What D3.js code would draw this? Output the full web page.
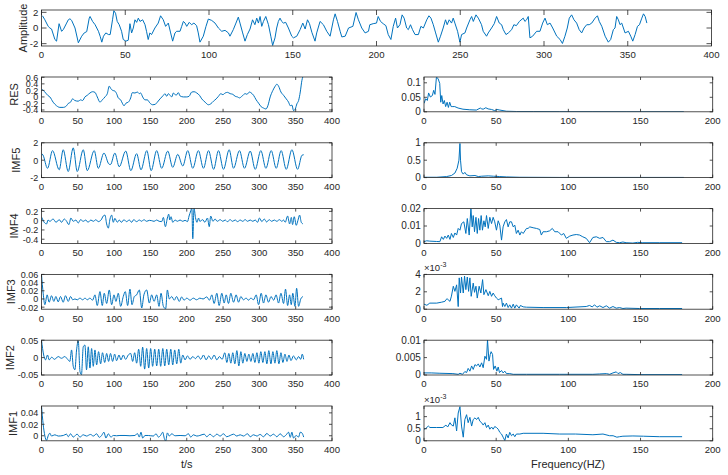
<!DOCTYPE html>
<html><head><meta charset="utf-8">
<script src="https://cdn.jsdelivr.net/npm/d3@7"></script>
<style>
html,body{margin:0;padding:0;background:#fff;}
svg text{font-family:"Liberation Sans",Arial,sans-serif;fill:#262626;}
</style></head>
<body><svg id="c" width="728" height="475"></svg>
<script>
// ---------- data ----------
const timeTicks = [0,50,100,150,200,250,300,350,400];
const freqTicks = [0,50,100,150,200];

const ampSignal = [[0.6,1.56],[2,1.05],[4,0.21],[5,0],[6,-0.13],[8,-1.47],[9,-1.68],[10.5,0.55],[12,-0.42],[13,-0.21],[15,0.63],[16,1.05],[17,1.18],[18,0.97],[20,0],[22,-1.89],[24,-1.05],[25.5,-0.63],[27,-0.46],[28.5,1.26],[29,1.47],[30.5,0.84],[32,0.42],[33,0],[34,-0.42],[35,-1.05],[36,-1.81],[37,-1.05],[38.4,-0.63],[40,-0.84],[41,-0.84],[42.4,1.05],[43.2,2.2],[44.2,1.89],[45.2,0.84],[46.4,0.42],[47.8,-0.42],[48.8,-1.47],[50.4,-1.68],[51.8,-1.56],[52.8,0.55],[53.8,-0.63],[54.8,0],[55.8,1.05],[56.8,0.72],[57.8,1.26],[58.8,0.84],[60.4,1.05],[61.8,0.42],[62.7,-0.42],[63.7,-1.47],[64.7,-0.63],[65.7,-0.84],[67.7,0],[69.7,0.63],[71.1,1.56],[72.7,1.05],[74.1,0.21],[75.7,0.63],[77.1,-0.63],[78.3,-1.68],[79.7,-0.63],[80.7,-0.42],[82.7,-0.42],[83.7,0.21],[84.7,0.84],[85.7,0.63],[86.7,0.21],[88.2,0.72],[89.6,0.42],[91,0.63],[92.6,0.3],[93.6,-0.63],[94.6,-1.81],[96.6,-1.05],[98.2,0.21],[99.6,1.14],[101.6,0.97],[103.6,0.63],[105.6,0],[107.6,-0.42],[109.6,-0.3],[111.6,-0.63],[112.5,-1.05],[114.5,-0.21],[116.1,0.63],[117.5,1.39],[118.5,0.63],[120.1,-0.63],[121.5,-1.68],[122.9,-0.84],[124.5,-0.13],[126,1.05],[127.4,0.42],[128.5,1.26],[129.5,0.63],[130.5,1.47],[131.5,0.21],[132.5,0.84],[133.9,1.47],[135.5,0.42],[136.9,-1.05],[138,-2.23],[139.4,-1.26],[140.4,0],[141.4,0.84],[142.4,1.26],[143.4,0.84],[144.4,0.63],[145.8,0.72],[147.4,0],[149.4,-1.05],[150.4,-1.26],[152.4,-1.05],[154.4,-0.21],[156,0.63],[157.4,-0.13],[158.8,1.05],[160,0.55],[161.4,-0.55],[163.3,-1.68],[164.3,-0.63],[166.3,0.84],[168.3,0.42],[170.3,-0.42],[172.3,-1.05],[174.3,1.05],[175.3,1.81],[176.7,0.84],[178.3,-0.42],[179.3,-1.14],[181.3,-1.05],[183.3,0],[185.9,0.21],[187.8,1.98],[189.2,1.05],[191.2,0],[193.2,-0.63],[195.2,-0.42],[196,0.42],[198,0.55],[200,0.63],[201,1.47],[202.4,0.84],[204,0.55],[205.6,0.3],[207,-0.84],[208.6,-1.47],[210,0.21],[211.4,1.26],[212.5,0],[214,0.42],[215.3,1.68],[216.5,1.26],[218,0],[219,-0.21],[220.3,0.42],[221.5,-0.21],[223,-0.84],[225,-0.84],[226.5,0.21],[228,0],[230,1.05],[231.3,1.56],[232.5,1.26],[233.9,0.42],[235.3,-0.63],[236.9,-1.81],[238.2,-1.05],[239.8,0],[241.2,1.05],[242.2,0.42],[243.4,1.05],[244.8,0.63],[245.8,1.26],[246.8,0.63],[248.4,-0.42],[249.8,-1.81],[250.8,-0.84],[252.8,-0.63],[253.8,0],[255.8,1.05],[256.8,1.47],[257.8,0.84],[259.4,1.68],[260.8,1.26],[262.7,0.42],[263.7,-0.42],[265.7,-1.05],[266.7,-0.63],[268.7,0],[270.3,0.55],[271.7,1.47],[273.3,0.63],[274.7,0.42],[275.7,-0.21],[277.3,-0.84],[278.7,-0.63],[280.7,-0.21],[282,0.42],[283.5,0.3],[285.3,0.84],[287.6,1.26],[288.6,0.84],[289.6,1.05],[290.6,1.47],[291.6,-1.26],[293.2,-1.05],[295.6,-0.42],[297.6,-0.42],[299.2,0.63],[300.6,1.26],[302,0.42],[303.6,0.63],[305.2,0],[307.6,-1.05],[309.6,-1.47],[311,-1.98],[312.5,-1.05],[313.9,0],[315.1,1.26],[316.5,1.68],[317.9,1.05],[319.5,0.63],[321,-0.21],[322.5,-0.63],[323.9,0],[325.5,0.42],[327,0.42],[328.5,0.63],[330.5,1.26],[331.9,1.56],[333,0.84],[334.5,0.21],[336.5,-1.05],[338.4,-1.81],[339.8,-1.47],[341.4,-0.21],[342.4,0],[343.4,1.47],[344.4,1.05],[345.4,0.42],[346.4,0.63],[348.4,-0.63],[350.4,-0.42],[351.8,-1.05],[353,-1.68],[354.4,-0.84],[355.8,0.21],[357,0.42],[358.4,1.26],[359.4,1.81],[360.4,1.47],[361.4,0.63]];

const resSignal = [[0,0.2],[1,0.22],[4.6,0.15],[9,0.04],[11.5,0],[16,-0.16],[20.7,-0.27],[25.3,-0.32],[30,-0.32],[34.5,-0.27],[36.8,-0.2],[40,-0.16],[42.8,-0.06],[46,-0.11],[50.6,-0.13],[53.8,-0.09],[56.6,-0.11],[59.8,0],[63,0.05],[66.7,0.12],[70.3,0.16],[73.6,0.14],[76.8,0],[80.5,-0.16],[83.7,-0.09],[87.4,0],[90.6,0.1],[93.3,0.33],[95.6,0.25],[98,0.2],[101,0.18],[103.4,0.1],[105.7,-0.03],[109,-0.09],[111.7,-0.21],[113.6,-0.27],[116.3,-0.19],[119.5,-0.16],[122.8,-0.03],[125,0.13],[128.7,0.12],[132,0.15],[134.7,0.1],[136.6,0.12],[139.3,0],[142.5,-0.09],[145.7,-0.09],[149.4,-0.19],[153.1,-0.24],[156.3,-0.23],[159.5,-0.16],[163.2,-0.06],[167.8,0.05],[170,0.1],[172.4,0.02],[174.7,0.1],[177,0.05],[179.3,0],[181.6,0.12],[185.3,0.05],[188.5,0.13],[190.8,0.03],[195.4,0],[200,0],[203.2,0.02],[206.9,0.15],[210.1,0.16],[213.8,0.12],[217.5,0.05],[220.7,-0.06],[225.3,-0.16],[229.9,-0.24],[233.1,-0.21],[236.8,-0.13],[240.5,-0.06],[243.7,0.02],[246.9,0.1],[249.7,0.07],[252.9,0.12],[256.1,0.14],[259.8,0.1],[263.4,0.08],[266.7,0.02],[269.9,0],[272.6,-0.03],[275.9,0.02],[280.5,0.1],[282.8,0.08],[286.4,0.15],[288.3,0.13],[292,0.05],[295.6,-0.09],[298.9,-0.19],[302.5,-0.3],[305.7,-0.34],[309,-0.37],[311.7,-0.27],[314.9,0],[318.6,0.2],[321.8,0.33],[324.1,0.39],[326.4,0.33],[329.7,0.15],[333.3,0.05],[337,-0.06],[340.2,-0.16],[342.5,-0.27],[344.8,-0.25],[347.1,-0.42],[349.4,-0.37],[351.7,-0.21],[354,-0.11],[356.3,0.15],[358.6,0.51],[360.9,0.67]];

const imf5Signal = [[0.5,0.75],[2,0.6],[8.3,-0.93],[15.2,1.1],[24.4,-1.1],[29.9,1.2],[36.8,-1.3],[43.7,1.42],[49.2,-1.3],[57.5,1.2],[63,-1.2],[72.6,1.1],[78.2,-0.93],[86,0.82],[92.9,-0.45],[95,-0.5],[101,0.82],[107,-0.75],[116,1.05],[123,-1.2],[131,0.75],[137,-1.1],[145,1.1],[151,-1.2],[158.6,1.1],[165.5,-0.93],[173.8,1.05],[180.7,-0.82],[187.6,0.67],[194.5,-0.67],[201.4,1.1],[208.3,-0.93],[216,1.1],[223,-0.93],[230,1.1],[237,-1.05],[243.7,1.1],[250.6,-1.05],[258.4,1.2],[264.4,-0.93],[272.6,1.1],[279.5,-0.93],[287.4,1.05],[294.3,-1.05],[302,1.1],[309,-0.93],[316.3,1.1],[323.2,-0.93],[330,1.1],[337,-1.05],[344.8,1.2],[352.6,-1.05],[358.6,0.56],[361,0.63]];

const imf4Signal = [[0.5,0.07],[3.7,-0.035],[7,-0.07],[9,0.014],[11.5,-0.014],[16,0.035],[20,-0.035],[24.4,0.021],[27.6,-0.035],[31.3,0.035],[34,0],[37.7,-0.085],[40.5,0.057],[43.7,-0.014],[47.4,0.014],[50.6,-0.05],[53.8,0.021],[57.5,-0.014],[61,0.014],[64,-0.035],[68,0.014],[71.3,-0.014],[75,0.021],[78,-0.021],[82,0.014],[85,0.1],[87.4,0.12],[89.7,-0.07],[92,-0.16],[94.3,0.035],[96.6,0.12],[98.9,-0.035],[101,0.05],[104.4,-0.035],[107,0.014],[110,-0.035],[113.6,0.021],[117,-0.021],[121,0.014],[124,-0.035],[127,0.021],[131,-0.021],[134.7,0.014],[138,-0.014],[141,0.021],[144.8,-0.014],[148.5,0.007],[151.7,0],[155,-0.014],[158.6,0.014],[162,-0.014],[165.5,-0.021],[167.8,0.07],[170.6,-0.13],[173.3,0.057],[175.2,0.14],[176.6,0.014],[178.4,0.085],[180.7,-0.035],[184,0.014],[187,-0.014],[190.8,0.014],[194.5,-0.014],[197.7,0.007],[201,-0.021],[203.2,0.1],[205.5,0.21],[207,0.27],[208.3,-0.39],[210,0.27],[212,0.07],[214,-0.035],[216.3,0.057],[218,-0.014],[222,0.021],[225,-0.035],[228.5,0.057],[231,-0.13],[233,0.1],[236,-0.014],[239,0.035],[242,-0.014],[246,0.021],[249.7,-0.014],[252.9,0.014],[256,-0.021],[259.8,0.021],[263,-0.014],[266.7,0.014],[270,-0.021],[273.6,0.014],[277,-0.014],[280.5,0.021],[283.7,-0.014],[287.4,0.014],[291,-0.014],[294.3,0.014],[297.5,-0.035],[300.2,0.057],[303.4,-0.021],[306.7,0.035],[310,-0.028],[313.5,0.021],[317,-0.014],[320.6,0.014],[324,-0.014],[327.6,0.021],[331,-0.014],[333.3,0.014],[335.6,-0.035],[338.9,0.1],[341.6,-0.07],[344,0.07],[345.7,-0.085],[348,0.085],[350.8,-0.1],[353,0],[355.4,0.12],[357.7,-0.035],[360,-0.07]];

const imf3Signal = [[0,0.06],[2.3,0.014],[4.6,-0.014],[7.8,0.01],[10.5,-0.008],[13.8,0.008],[17,-0.006],[19.8,0.006],[23,-0.007],[26.2,0.006],[29.9,-0.008],[33,0.008],[36.8,-0.006],[40,0.006],[43,-0.002],[46,0],[49.2,-0.002],[53,0.002],[56.6,-0.002],[60,0.002],[63,-0.002],[66.7,0.002],[70.3,-0.003],[73.6,0.01],[76.8,-0.016],[80.5,0.018],[83.7,-0.016],[86.4,0.014],[89.7,-0.011],[93.3,0.022],[96.6,-0.014],[99.8,0.01],[102.5,-0.006],[105.7,0.014],[109,-0.018],[112.6,0.006],[115.4,0.018],[118.6,-0.016],[121.8,0.024],[124.6,-0.014],[127.8,0.006],[131,0.01],[134.7,0.022],[138,-0.022],[141,0.01],[144.8,0.022],[148.5,-0.01],[151.7,0.01],[155,-0.006],[158.6,0.01],[161.8,-0.018],[164.6,0.014],[167.8,-0.018],[171,-0.024],[173.3,0.022],[176,0],[179.3,0.006],[182.8,-0.003],[186,0.006],[189.7,-0.006],[193,0.005],[196.3,-0.003],[200,0.002],[204.6,-0.003],[209,0.002],[213.6,-0.002],[218,0.002],[222.5,0],[227.6,0.005],[231.3,-0.003],[234.5,0.01],[237.7,-0.011],[241.4,0.014],[244.6,-0.016],[248.3,0.014],[251.5,-0.01],[254.3,0.01],[257.5,-0.011],[260.7,0.014],[264.4,-0.008],[268,0.01],[271.3,-0.008],[274.5,0.006],[278,-0.002],[281.8,0.002],[285,-0.003],[288.3,0.002],[292,-0.002],[295.6,0.01],[298.9,-0.014],[302.5,0.014],[305.7,-0.01],[309,0.01],[312.6,-0.008],[316,0.006],[319.7,-0.003],[323,0.01],[326.4,-0.01],[329.7,0.014],[333.3,-0.011],[336,0.024],[338.9,-0.016],[341.6,0.01],[343.9,-0.014],[346,0.014],[349,-0.018],[351.3,0.026],[354,-0.018],[357,0],[360,0.006]];

const imf2Signal = [[0,0.05],[3,0.0075],[5.5,-0.0066],[8.3,0.0075],[10.6,-0.0066],[14,0.001],[18,-0.005],[23,0.003],[27.6,-0.002],[32,0.003],[36,-0.005],[39,-0.011],[41.4,0.022],[43.7,-0.025],[46,-0.035],[48.3,0.022],[50.6,0.048],[53,-0.04],[55,-0.049],[57.5,0.031],[59.8,0.036],[62,-0.035],[64.4,0.031],[66.7,-0.03],[69,0.026],[71.3,-0.025],[73.6,0.022],[75.9,-0.021],[78.6,0.017],[81.4,-0.018],[84,0.014],[87,-0.014],[89.7,0.012],[92.4,-0.011],[95,0.012],[97.9,-0.011],[100.7,0.01],[103.4,-0.009],[106.7,0.0075],[109.4,-0.0066],[112.6,0.0075],[115.8,-0.005],[119.5,0.0075],[122.8,0.012],[125.5,-0.011],[128.3,0.014],[131,-0.016],[133.8,0.024],[136.6,-0.025],[139.3,0.03],[142,-0.033],[144.8,0.026],[147.6,-0.03],[150.3,0.026],[153,-0.025],[155.9,0.024],[158.6,-0.024],[161.4,0.024],[164.1,-0.025],[167,0.026],[169.7,-0.024],[172.4,0.024],[175.2,-0.021],[178,0.024],[180.7,-0.021],[183.4,0.022],[186.2,-0.018],[189,0.024],[191.7,-0.016],[194.5,0.0075],[197.7,-0.0066],[201,0.005],[204.6,-0.005],[208.3,0.003],[212,-0.003],[215.6,0.005],[219.3,-0.005],[223,0.0075],[226.7,-0.0066],[230.3,0.005],[234,-0.005],[237.7,0.0075],[241.4,-0.0066],[245,0.003],[248.7,-0.005],[252.4,0.014],[255.2,-0.014],[257.9,0.012],[260.7,-0.016],[263.4,0.014],[266.2,-0.018],[269,0.02],[271.7,-0.024],[274.5,0.017],[277.2,-0.016],[280,0.012],[282.8,-0.011],[285.5,0.01],[288.3,-0.011],[291,0.012],[293.8,-0.014],[296.6,0.014],[299.3,-0.016],[302,0.017],[304.8,-0.014],[307.6,0.017],[310.3,-0.018],[313,0.02],[315.9,-0.018],[318.6,0.017],[321.4,-0.016],[324,0.02],[326.9,-0.018],[329.7,0.014],[332.4,-0.014],[335.2,0.01],[338,-0.011],[340.7,0.0075],[343.5,-0.0085],[347,0.005],[350.8,-0.0066],[354,0.003],[357,-0.005],[359,0.01],[361,-0.005]];

const imf1Signal = [[0,0.052],[2.3,0.02],[4.6,0],[7,-0.008],[9.2,0],[11.5,0.0045],[13.8,-0.0005],[18.4,0.0017],[23,-0.0005],[30,0.0005],[34.5,0.0028],[36.8,-0.0017],[40,0.0034],[43.7,-0.0023],[49,0.0028],[53,-0.0023],[57.5,0.0017],[62,-0.0005],[67.6,0.0023],[71.3,-0.0005],[76,0.0034],[79.5,-0.0028],[82.8,0.0005],[86,0.0062],[88.7,-0.004],[92,0.0034],[95.6,-0.0023],[98.9,0.0005],[103.4,0],[108,0.0005],[115,0.0005],[121.8,0],[128.7,0.0005],[132,0.0039],[134.7,-0.0023],[137,0.0062],[139.3,-0.004],[142.5,0.0005],[147,0.0005],[154,-0.0005],[157.7,0.0034],[161,-0.0023],[163.9,0.0005],[166.9,0.0062],[169.2,-0.005],[171,-0.0096],[173.3,0.005],[176,-0.0005],[179.3,0.0034],[184,0],[190.8,0.0005],[197.7,0],[202.3,0.0034],[205.5,-0.0023],[209.2,0.0017],[213.8,-0.0005],[218,0.0005],[224,0.0028],[227.6,-0.0017],[232,0.0028],[236.8,-0.0017],[241.4,0.0028],[246,-0.0005],[250.6,0.0034],[255,-0.0017],[259.8,0.0005],[264.4,0.0028],[268.9,-0.0005],[273.6,0.0017],[278,-0.0005],[283.7,0.0034],[287.4,-0.0017],[292,0.0017],[296.6,-0.0005],[301,0.0023],[305.7,-0.0017],[310.3,0.004],[314.9,-0.0005],[319.5,0.0028],[324,-0.0017],[328.7,0.0034],[333.3,-0.0017],[337,0.0017],[340.2,0.0062],[342.5,-0.0028],[344.8,0.0062],[347,-0.004],[350.6,0.0005],[354,-0.0023],[356.3,0.0062],[358.6,0.005],[361,-0.0023]];

const resSpectrum = [[0,0.029],[1.2,0.045],[2.3,0.039],[3.2,0.065],[4.4,0.051],[5.8,0.056],[6.7,0.074],[7.6,0.06],[8.6,0.119],[9.7,0.115],[10.9,0.098],[11.6,0.033],[12.3,0.056],[13.2,0.027],[14.1,0.039],[15,0.018],[16,0.033],[16.9,0.015],[17.8,0.033],[18.8,0.018],[20,0.018],[21.3,0.018],[23.6,0.013],[27,0.009],[31.7,0.007],[36.3,0.006],[39,0.013],[40,0.01],[41,0.009],[42.8,0.014],[44.4,0.01],[46.8,0.008],[49,0.004],[50.5,0.008],[52.5,0.006],[57,0.002],[64,0.001],[75.7,0.001],[94,0.0006],[117,0.0006],[140,0.0003],[180,0.0003]];

const imf5Spectrum = [[0,0.01],[8.8,0.01],[15.7,0.03],[19,0.06],[21.4,0.13],[23,0.27],[24.2,0.5],[24.9,0.98],[25.3,0.5],[26,0.17],[27.2,0.1],[28.3,0.15],[29.5,0.08],[31.8,0.05],[35.3,0.06],[37.6,0.03],[40,0.04],[44.5,0.05],[48,0.04],[52.5,0.03],[57,0.02],[66,0.01],[94,0.005],[180,0.005]];

const imf4Spectrum = [[0,0.001],[1.8,0.0015],[4,0.0013],[8.8,0.0011],[11,0.001],[12.2,0.0038],[13.4,0.0023],[14.5,0.0042],[15.7,0.0029],[16.8,0.0048],[18,0.0023],[19,0.0057],[20.3,0.0034],[21.4,0.006],[22.6,0.0048],[23.7,0.0086],[24.9,0.0076],[26,0.0114],[27.6,0.0124],[29,0.0057],[30,0.0143],[31.3,0.0048],[32.5,0.02],[33.4,0.0095],[34.1,0.016],[35,0.0067],[36,0.015],[36.9,0.0057],[37.8,0.0143],[38.7,0.0076],[39.6,0.016],[40.5,0.0076],[41.5,0.013],[42.4,0.0095],[43.3,0.016],[44.5,0.0086],[45.6,0.015],[46.8,0.0114],[47.9,0.015],[49,0.0124],[50.2,0.0076],[51.4,0.013],[52.5,0.0105],[53.7,0.0019],[54.8,0.0095],[56,0.0124],[57.1,0.0137],[58.3,0.0095],[59.4,0.0124],[60.6,0.0124],[61.8,0.0095],[62.9,0.0105],[64,0.0057],[65.2,0.0076],[66.4,0.0048],[67.5,0.0067],[68.7,0.0057],[71,0.0086],[72.1,0.0086],[73.3,0.0095],[75.6,0.009],[77.9,0.0086],[80.2,0.008],[81.3,0.0048],[82.5,0.0067],[84.8,0.0067],[87,0.0072],[88.9,0.0086],[90.6,0.0067],[92.9,0.0067],[95.2,0.0048],[96.8,0.0057],[98.6,0.0029],[101,0.0042],[103.2,0.0048],[105.5,0.0051],[107.8,0.0048],[110,0.0038],[112.4,0.0029],[114.7,0.0004],[117,0.0034],[119.4,0.0038],[121.7,0.0029],[124,0.0034],[126.3,0.001],[128.6,0.001],[130.9,0.0019],[133.2,0.0006],[135.5,0.0004],[137.8,0.0008],[140,0.0004],[144.7,0.0002],[148,0.0006],[151.6,0.0004],[163,0.0004],[178.8,0.0004]];

// values in units of 1e-3
const imf3Spectrum = [[0,0.58],[2,0.45],[4,0.7],[8.8,0.7],[12,0.8],[14.5,0.9],[15.2,1.1],[16,1.2],[18,0.9],[19,1.5],[20.3,2.64],[21.4,2.05],[22.6,2.8],[23.7,0.3],[24.4,3.6],[25.3,1.86],[26,3.7],[27.2,1.86],[28.1,3.8],[29,2.25],[30,3.7],[30.9,2.05],[31.8,3.6],[32.7,1.48],[34.1,3.0],[35,1.94],[36,2.64],[36.9,1.28],[38.2,2.64],[39.4,1.86],[40.6,3.4],[41.5,1.67],[42.9,2.25],[44.5,1.55],[45.6,2.05],[46.8,1.48],[47.9,1.86],[49,1.55],[50.2,1.28],[51.4,1.09],[52.5,1.17],[53.7,1.28],[54.4,0.3],[54.8,0.7],[56,0.31],[57.1,0.7],[58.3,0.19],[59.4,0.5],[60.6,0.12],[61.8,0.58],[62.9,0.12],[64,0.5],[65.9,0.12],[66.8,0.43],[68.7,0.27],[71,0.23],[82.5,0.19],[98.6,0.19],[112.4,0.31],[114.7,0.43],[116.5,0.27],[118.2,0.5],[119.8,0.23],[121.7,0.39],[124,0.19],[126.3,0.39],[128.6,0.12],[130.9,0.31],[133.2,0.12],[135.5,0.19],[137.8,0.08],[140,0.12],[149.3,0.08],[163,0.08],[178.8,0.08]];

const imf2Spectrum = [[0,0.0006],[5,0.0006],[11,0.0005],[20,0.0004],[23.7,0.0002],[24.9,0.0005],[26.7,0.0002],[28.3,0.001],[29.5,0.0007],[30.6,0.0019],[31.8,0.0011],[33,0.0026],[34.1,0.0016],[35.3,0.003],[36.4,0.0026],[37.6,0.0032],[38.7,0.0023],[39.9,0.0035],[41,0.0021],[42.2,0.0054],[43.3,0.0045],[44,0.0101],[45,0.004],[45.9,0.0059],[46.5,0.0067],[47.5,0.0059],[48.2,0.0016],[49.3,0.0026],[50.5,0.0011],[51.4,0.0023],[52.3,0.0007],[53.7,0.0013],[54.8,0.0006],[56,0.0011],[57.1,0.0004],[59.4,0.0004],[61.8,0.0002],[71,0.0002],[94,0.0002],[117,0.0002],[121.7,0.0003],[126.3,0.0004],[128.6,0.0002],[130.9,0.0006],[133.2,0.0009],[134.4,0.0004],[136,0.0007],[137.8,0.0002],[140,0.0002],[150,0.0001],[178.8,0.0001]];

// values in units of 1e-3
const imf1Spectrum = [[0,0.48],[1.2,0.51],[3,0.61],[4.1,0.55],[8.8,0.55],[13.1,0.55],[15.2,0.65],[16.4,0.57],[18,0.75],[19.1,0.65],[20.3,0.61],[21.4,0.95],[22.6,0.41],[23.7,1.15],[24.9,1.41],[26,0.61],[27.2,0.15],[28.3,0.88],[29.5,1.08],[30.6,0.75],[31.8,0.97],[33,0.61],[34.1,0.88],[35.3,0.95],[36.4,0.88],[37.6,0.97],[38.7,0.81],[39.9,0.75],[41,0.65],[42.2,0.75],[43.3,0.55],[44.5,0.65],[45.6,0.48],[46.8,0.57],[47.9,0.48],[49,0.59],[50.2,0.55],[51.4,0.48],[52.5,0.35],[53.7,0.28],[54.8,0.15],[56,0.01],[57.1,0.28],[58.3,0.12],[59.4,0.35],[60.6,0.21],[61.8,0.28],[62.9,0.17],[64,0.28],[66.4,0.28],[68.7,0.31],[82.5,0.31],[94,0.28],[105,0.28],[117,0.25],[124,0.28],[128.6,0.21],[131,0.21],[133.6,0.15],[135.5,0.17],[137.8,0.19],[144.7,0.2],[152,0.19],[163,0.17],[178.8,0.17]];

const rowLabels = ["RES","IMF5","IMF4","IMF3","IMF2","IMF1"];
const leftYTicks = [[0.6,0.4,0.2,0,-0.2,-0.4],[2,0,-2],[0.2,0,-0.2,-0.4],[0.06,0.04,0.02,0,-0.02],[0.05,0,-0.05],[0.04,0.02,0]];
const leftYDomains = [[-0.455,0.61],[-2,2],[-0.49,0.26],[-0.025,0.06],[-0.05,0.05],[-0.0088,0.052]];
const rightYTicks = [[0,0.05,0.1],[0,0.5,1],[0,0.01,0.02],[0,2,4],[0,0.005,0.01],[0,0.5,1]];
const rightYDomains = [[0,0.12],[0,1],[0,0.02],[0,4],[0,0.01],[0,1.44]];
const ampTicks = [2,0,-2];

// ---------- drawing ----------
const svg = d3.select("#c");
const LINE = "#0072BD", AX = "#262626";
let clipId = 0;

function panel(o){
  const x = d3.scaleLinear().domain(o.xd).range([o.x0,o.x1]);
  const y = d3.scaleLinear().domain(o.yd).range([o.y1,o.y0]);
  const g = svg.append("g");
  const id = "clip"+(clipId++);
  g.append("clipPath").attr("id",id).append("rect")
    .attr("x",o.x0).attr("y",o.y0).attr("width",o.x1-o.x0).attr("height",o.y1-o.y0);
  g.append("path").datum(o.data)
    .attr("clip-path","url(#"+id+")")
    .attr("fill","none").attr("stroke",LINE).attr("stroke-width",1)
    .attr("stroke-linejoin","round")
    .attr("d", d3.line().x(d=>x(d[0])).y(d=>y(d[1])).curve(o.curve||d3.curveLinear));
  const tl = o.tl;
  o.xt.forEach(t=>{
    const px = x(t);
    g.append("line").attr("x1",px).attr("x2",px).attr("y1",o.y1).attr("y2",o.y1-tl).attr("stroke",AX).attr("stroke-width",0.8);
    g.append("line").attr("x1",px).attr("x2",px).attr("y1",o.y0).attr("y2",o.y0+tl).attr("stroke",AX).attr("stroke-width",0.8);
    g.append("text").attr("x",px).attr("y",o.y1+12.3).attr("text-anchor","middle").attr("font-size",9.6).text(t);
  });
  o.yt.forEach(t=>{
    const py = y(t);
    g.append("line").attr("x1",o.x0).attr("x2",o.x0+tl).attr("y1",py).attr("y2",py).attr("stroke",AX).attr("stroke-width",0.8);
    g.append("line").attr("x1",o.x1).attr("x2",o.x1-tl).attr("y1",py).attr("y2",py).attr("stroke",AX).attr("stroke-width",0.8);
    g.append("text").attr("x",o.x0-3.2).attr("y",py+3.4).attr("text-anchor","end").attr("font-size",o.yfs).text(String(t));
  });
  g.append("rect").attr("x",o.x0).attr("y",o.y0).attr("width",o.x1-o.x0).attr("height",o.y1-o.y0)
    .attr("fill","none").attr("stroke",AX).attr("stroke-width",0.8);
  if(o.ylabel){
    g.append("text").attr("transform",`translate(${o.ylx},${(o.y0+o.y1)/2}) rotate(-90)`)
      .attr("text-anchor","middle").attr("font-size",11).attr("dy","0.35em").text(o.ylabel);
  }
  if(o.exp){
    const t = g.append("text").attr("x",o.x0).attr("y",o.y0-3).attr("font-size",9.5);
    t.append("tspan").text("\u00d710");
    t.append("tspan").attr("font-size",7).attr("dy",-4).text("-3");
  }
}

panel({x0:41.5,x1:711.5,y0:10,y1:46,xd:[0,400],yd:[-2.3,2.3],xt:timeTicks,yt:ampTicks,
  data:ampSignal,tl:5,ylabel:"Amplitude",ylx:23.5,yfs:9.6});

const leftSignals = [resSignal,imf5Signal,imf4Signal,imf3Signal,imf2Signal,imf1Signal];
const rightSpectra = [resSpectrum,imf5Spectrum,imf4Spectrum,imf3Spectrum,imf2Spectrum,imf1Spectrum];
const ylabX = [14,16,14,11,10,13];
const expRows = [false,false,false,true,false,true];

rowLabels.forEach((lab,i)=>{
  const y0 = 77 + i*65.8, y1 = y0 + 34.8;
  panel({x0:41.5,x1:332,y0,y1,xd:[0,400],yd:leftYDomains[i],xt:timeTicks,yt:leftYTicks[i],
    data:leftSignals[i],curve:d3.curveMonotoneX,tl:3,ylabel:lab,ylx:ylabX[i],yfs:9});
  panel({x0:424,x1:712.7,y0,y1,xd:[0,200],yd:rightYDomains[i],xt:freqTicks,yt:rightYTicks[i],
    data:rightSpectra[i],tl:3,exp:expRows[i],yfs:10});
});

svg.append("text").attr("x",186.7).attr("y",467.5).attr("text-anchor","middle").attr("font-size",11).text("t/s");
svg.append("text").attr("x",568).attr("y",468).attr("text-anchor","middle").attr("font-size",11).text("Frequency(HZ)");
</script></body></html>
